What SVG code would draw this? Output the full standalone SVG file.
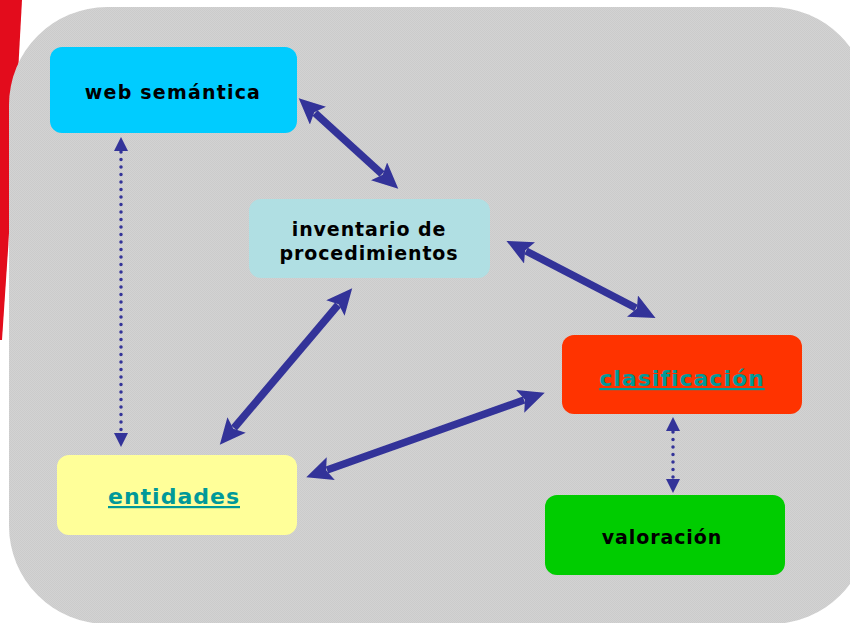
<svg xmlns="http://www.w3.org/2000/svg" width="850" height="623" viewBox="0 0 850 623">
<style>
.lbl{font-family:"DejaVu Sans",Verdana,sans-serif;font-weight:bold;font-size:19px;letter-spacing:1.2px;fill:#000;text-anchor:middle}
.lnk{font-family:"DejaVu Sans",Verdana,sans-serif;font-weight:bold;font-size:22px;letter-spacing:1px;fill:#009999;text-anchor:middle;text-decoration:underline}
.arr{stroke:#333399;stroke-width:7.5;fill:none}
.dot{stroke:#333399;stroke-width:3.5;stroke-linecap:round;stroke-dasharray:0 7.5;fill:none}
</style>
<defs>
<pattern id="chk" width="2" height="2" patternUnits="userSpaceOnUse">
<rect width="2" height="2" fill="#d3d3d3"/>
<rect width="1" height="1" fill="#cbcbcb"/>
<rect x="1" y="1" width="1" height="1" fill="#cbcbcb"/>
</pattern>
<marker id="ah" viewBox="0 0 26 24" refX="4" refY="12" markerWidth="26" markerHeight="24" markerUnits="userSpaceOnUse" orient="auto-start-reverse">
<path d="M0,0 L26,12 L0,24 L5,12 Z" fill="#333399"/>
</marker>
<marker id="sh" viewBox="0 0 14 14" refX="3" refY="7" markerWidth="14" markerHeight="14" markerUnits="userSpaceOnUse" orient="auto-start-reverse">
<path d="M0,0 L14,7 L0,14 Z" fill="#333399"/>
</marker>
</defs>
<rect width="850" height="623" fill="#ffffff"/>
<path d="M0,0 L22,0 L16,110 L8,250 L2,340 L0,340 Z" fill="#e30c1c"/>
<rect x="9" y="7" width="860" height="617" rx="98" ry="98" fill="url(#chk)"/>
<g id="connectors">
<line class="arr" x1="315" y1="113" x2="382" y2="174" marker-start="url(#ah)" marker-end="url(#ah)"/>
<line class="arr" x1="526" y1="251" x2="636" y2="308" marker-start="url(#ah)" marker-end="url(#ah)"/>
<line class="arr" x1="338" y1="305" x2="234" y2="428" marker-start="url(#ah)" marker-end="url(#ah)"/>
<line class="arr" x1="327" y1="470" x2="524" y2="400" marker-start="url(#ah)" marker-end="url(#ah)"/>
<line class="dot" x1="121" y1="152" x2="121" y2="432"/>
<line x1="121" y1="148" x2="121" y2="436" stroke="none" marker-start="url(#sh)" marker-end="url(#sh)"/>
<line class="dot" x1="673" y1="432" x2="673" y2="478"/>
<line x1="673" y1="428" x2="673" y2="482" stroke="none" marker-start="url(#sh)" marker-end="url(#sh)"/>
</g>
<g id="web-semantica">
<rect x="50" y="47" width="247" height="86" rx="12" fill="#00ccff"/>
<text class="lbl" x="173" y="99">web semántica</text>
</g>
<g id="inventario">
<rect x="249" y="199" width="241" height="79" rx="12" fill="#b0dfe3"/>
<text class="lbl" x="369" y="236" style="letter-spacing:0.9px">inventario de</text>
<text class="lbl" x="369" y="260" style="letter-spacing:0.9px">procedimientos</text>
</g>
<g id="clasificacion">
<rect x="562" y="335" width="240" height="79" rx="12" fill="#ff3300"/>
<text class="lnk" x="682" y="386">clasificación</text>
</g>
<g id="entidades">
<rect x="57" y="455" width="240" height="80" rx="12" fill="#ffff99"/>
<text class="lnk" x="174" y="504">entidades</text>
</g>
<g id="valoracion">
<rect x="545" y="495" width="240" height="80" rx="12" fill="#00cc00"/>
<text class="lbl" x="662" y="544" style="letter-spacing:0.9px">valoración</text>
</g>
</svg>
